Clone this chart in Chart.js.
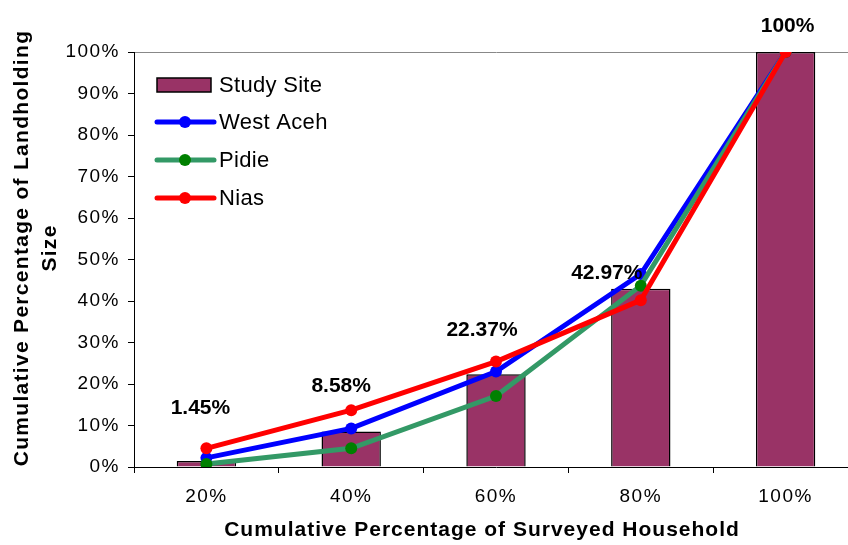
<!DOCTYPE html>
<html>
<head>
<meta charset="utf-8">
<script src="https://cdn.jsdelivr.net/npm/chart.js@4"></script>
<style>
  html, body { margin: 0; padding: 0; background: #fff; overflow: hidden; }
  #wrap { width: 870px; height: 545px; position: relative; }
</style>
</head>
<body>
<div id="wrap"><canvas id="myChart"></canvas></div>
<script>
// data
let categories = ['20%', '40%', '60%', '80%', '100%'];
let studySite = [1.45, 8.58, 22.37, 42.97, 100];
let westAceh = [2.2, 9.3, 23.0, 46.5, 100];
let pidie = [0.7, 4.5, 17.1, 43.7, 100];
let nias = [4.5, 13.7, 25.4, 40.2, 100];
let yTicks = [0, 10, 20, 30, 40, 50, 60, 70, 80, 90, 100];

let xTitle = 'Cumulative Percentage of Surveyed Household';
let yTitle = ['Cumulative Percentage of Landholding', 'Size'];

const FONT = '"Liberation Sans", Arial, sans-serif';

// bar value labels, nudged like the manually placed ones in the original
const labelNudge = [[-6, -53], [-10, -45], [-14, -44], [-34, -15], [2, -26]];

// excel text is a bit wider than the canvas one, so space the letters out
const wideText = {
  id: 'wideText',
  beforeDraw(chart) {
    chart.ctx.letterSpacing = '1.5px';
  },
  afterDraw(chart) {
    chart.ctx.letterSpacing = '0px';
  }
};

const barLabels = {
  id: 'barLabels',
  afterDatasetsDraw(chart) {
    const ctx = chart.ctx;
    const meta = chart.getDatasetMeta(0);
    ctx.save();
    ctx.letterSpacing = '0px';
    ctx.font = 'bold 21px ' + FONT;
    ctx.fillStyle = '#000';
    ctx.textAlign = 'center';
    ctx.textBaseline = 'middle';
    meta.data.forEach((bar, i) => {
      let v = studySite[i];
      let txt = v === 100 ? '100%' : v.toFixed(2) + '%';
      ctx.fillText(txt, bar.x + labelNudge[i][0], bar.y + labelNudge[i][1]);
    });
    ctx.restore();
  }
};

const axisTitles = {
  id: 'axisTitles',
  afterDraw(chart) {
    const ctx = chart.ctx;
    ctx.save();
    ctx.fillStyle = '#000';
    ctx.textAlign = 'center';
    ctx.textBaseline = 'middle';
    ctx.font = 'bold 21px ' + FONT;
    ctx.letterSpacing = '1px';
    ctx.fillText(xTitle, 482, 530);

    ctx.letterSpacing = '1.3px';
    ctx.translate(0, 248);
    ctx.rotate(-Math.PI / 2);
    ctx.fillText(yTitle[0], 0, 22);
    ctx.fillText(yTitle[1], 0, 50);
    ctx.restore();
  }
};

const boxLegend = {
  id: 'boxLegend',
  afterDraw(chart) {
    const ctx = chart.ctx;
    const x0 = 157;
    const rows = [85, 122, 160, 198];
    ctx.save();
    ctx.letterSpacing = '0.3px';
    ctx.font = '22px ' + FONT;
    ctx.textBaseline = 'middle';
    ctx.textAlign = 'left';
    chart.data.datasets.forEach((ds, i) => {
      let y = rows[i];
      if (ds.type === 'bar') {
        ctx.fillStyle = ds.backgroundColor;
        ctx.fillRect(x0, y - 7, 54, 14);
        ctx.lineWidth = 1.5;
        ctx.strokeStyle = '#000';
        ctx.strokeRect(x0, y - 7, 54, 14);
      } else {
        ctx.strokeStyle = ds.borderColor;
        ctx.lineWidth = 5;
        ctx.lineCap = 'round';
        ctx.beginPath();
        ctx.moveTo(x0, y);
        ctx.lineTo(x0 + 57, y);
        ctx.stroke();
        ctx.fillStyle = ds.pointBackgroundColor;
        ctx.beginPath();
        ctx.arc(x0 + 28, y, 6, 0, Math.PI * 2);
        ctx.fill();
      }
      ctx.fillStyle = '#000';
      ctx.fillText(ds.label, 219, y + 1);
    });
    ctx.restore();
  }
};

function lineSet(label, data, color, dot, order) {
  return {
    type: 'line',
    label: label,
    data: data,
    borderColor: color,
    backgroundColor: color,
    pointBackgroundColor: dot,
    pointBorderColor: dot,
    pointRadius: 6,
    pointBorderWidth: 0,
    borderWidth: 5,
    tension: 0,
    fill: false,
    order: order
  };
}

const data = {
  labels: categories,
  datasets: [
    {
      type: 'bar',
      label: 'Study Site',
      data: studySite,
      backgroundColor: '#993366',
      borderColor: '#000',
      borderWidth: 1.5,
      categoryPercentage: 0.41,
      barPercentage: 1,
      order: 3
    },
    lineSet('West Aceh', westAceh, '#0000FF', '#0000FF', 2),
    lineSet('Pidie', pidie, '#339966', '#008000', 1),
    lineSet('Nias', nias, '#FF0000', '#FF0000', 0)
  ]
};

const config = {
  data: data,
  plugins: [wideText, barLabels, axisTitles, boxLegend],
  options: {
    responsive: true,
    maintainAspectRatio: false,
    animation: false,
    layout: { padding: { top: 52, right: 12, left: 0, bottom: 0 } },
    plugins: {
      legend: { display: false },
      tooltip: { enabled: false }
    },
    scales: {
      x: {
        offset: true,
        grid: {
          offset: true,
          drawOnChartArea: false,
          color: '#000',
          tickLength: 6
        },
        border: { color: '#000', width: 1 },
        ticks: {
          color: '#000',
          font: { family: FONT, size: 19 },
          padding: 12,
          maxRotation: 0
        },
        afterFit(scale) { scale.height = 78; }
      },
      y: {
        min: 0,
        max: 100,
        afterBuildTicks(scale) {
          scale.ticks = yTicks.map(v => ({ value: v }));
        },
        grid: {
          color: ctx => (ctx.tick && ctx.tick.value === 100 ? '#888' : 'rgba(0,0,0,0)'),
          tickColor: '#000',
          tickLength: 6
        },
        border: { color: '#000', width: 1 },
        ticks: {
          color: '#000',
          font: { family: FONT, size: 19 },
          padding: 8,
          callback: v => v + '%'
        },
        afterFit(scale) { scale.width = 134; }
      }
    }
  }
};

const myChart = new Chart(document.getElementById('myChart'), config);
</script>
</body>
</html>
